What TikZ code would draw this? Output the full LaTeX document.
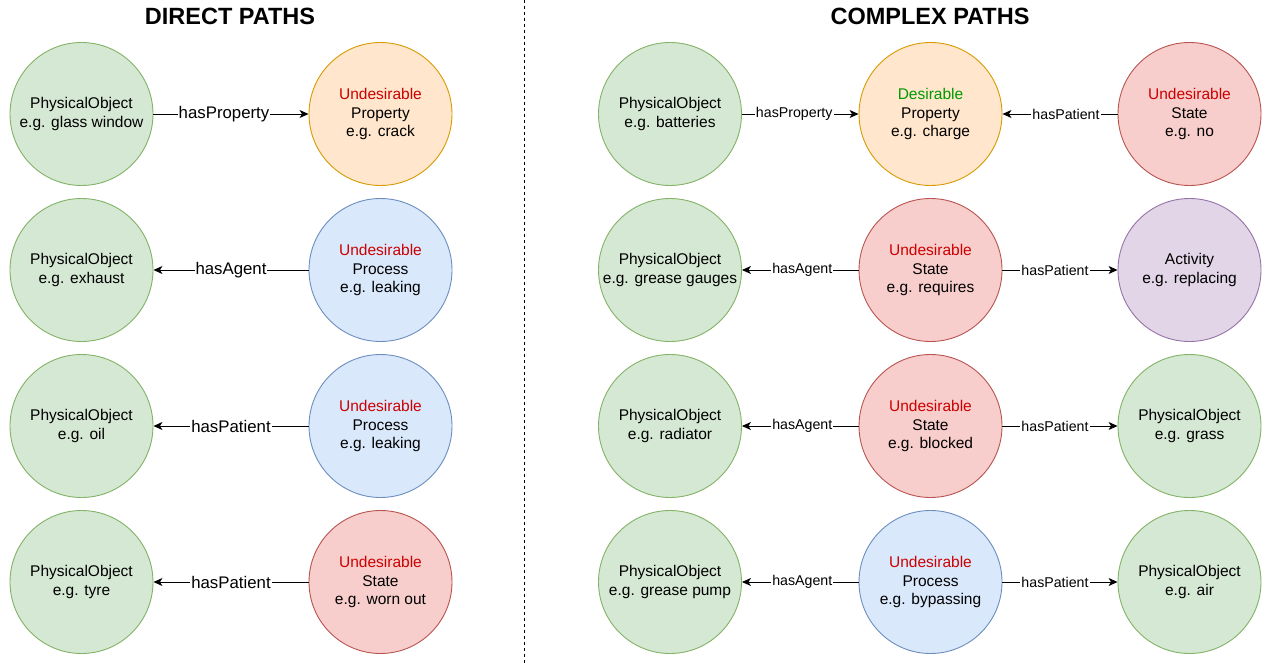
\documentclass[tikz,border=0pt]{standalone}
\usepackage{fontspec}
\setmainfont{Liberation Sans}
\usetikzlibrary{arrows.meta}
\definecolor{gfill}{HTML}{D5E8D4}\definecolor{gline}{HTML}{82B366}
\definecolor{ofill}{HTML}{FFE6CC}\definecolor{oline}{HTML}{D79B00}
\definecolor{bfill}{HTML}{DAE8FC}\definecolor{bline}{HTML}{6C8EBF}
\definecolor{rfill}{HTML}{F8CECC}\definecolor{rline}{HTML}{B85450}
\definecolor{pfill}{HTML}{E1D5E7}\definecolor{pline}{HTML}{9673A6}
\definecolor{undes}{HTML}{CC0000}\definecolor{des}{HTML}{009900}
\newcommand{\und}{\textcolor{undes}{Undesirable}}
\newcommand{\des}{\textcolor{des}{Desirable}}
\tikzset{
  x=1pt,y=-1pt,
  circ/.style={circle,minimum size=143pt,inner sep=0pt,line width=0.9pt,align=center,
    font=\fontsize{15.5}{18.8}\selectfont},
  gc/.style={circ,fill=gfill,draw=gline},
  oc/.style={circ,fill=ofill,draw=oline},
  bc/.style={circ,fill=bfill,draw=bline},
  rc/.style={circ,fill=rfill,draw=rline},
  pc/.style={circ,fill=pfill,draw=pline},
  rel/.style={line width=0.9pt,-{Stealth[length=9pt,width=8pt,inset=2.5pt]}},
  biglab/.style={fill=white,inner sep=1pt,font=\fontsize{16.8}{19}\selectfont},
  smlab/.style={fill=white,inner sep=1pt,font=\fontsize{14.2}{16}\selectfont},
  title/.style={font=\bfseries\fontsize{23.5}{27}\selectfont},
}
\begin{document}
\begin{tikzpicture}
\useasboundingbox (0,0) rectangle (1271,663);
\draw[dashed,line width=0.7pt] (524,0) -- (524,663);
\node[title] (t1) at (230,16) {DIRECT PATHS};
\node[title] (t2) at (930,16) {COMPLEX PATHS};
% direct
\node[gc] (a1) at (81.5,114) {PhysicalObject\\e.g. glass window};
\node[oc] (b1) at (380.5,114) {\und\\Property\\e.g. crack};
\node[gc] (a2) at (81.5,270) {PhysicalObject\\e.g. exhaust};
\node[bc] (b2) at (380.5,270) {\und\\Process\\e.g. leaking};
\node[gc] (a3) at (81.5,426) {PhysicalObject\\e.g. oil};
\node[bc] (b3) at (380.5,426) {\und\\Process\\e.g. leaking};
\node[gc] (a4) at (81.5,582) {PhysicalObject\\e.g. tyre};
\node[rc] (b4) at (380.5,582) {\und\\State\\e.g. worn out};
\draw[rel] (a1) -- node[biglab,xshift=-7pt]{hasProperty} (b1);
\draw[rel] (b2) -- node[biglab]{hasAgent} (a2);
\draw[rel] (b3) -- node[biglab]{hasPatient} (a3);
\draw[rel] (b4) -- node[biglab]{hasPatient} (a4);
% complex
\node[gc] (c1) at (670,114) {PhysicalObject\\e.g. batteries};
\node[oc] (d1) at (930.5,114) {\des\\Property\\e.g. charge};
\node[rc] (e1) at (1189.5,114) {\und\\State\\e.g. no};
\node[gc] (c2) at (670,270) {PhysicalObject\\e.g. grease gauges};
\node[rc] (d2) at (930.5,270) {\und\\State\\e.g. requires};
\node[pc] (e2) at (1189.5,270) {Activity\\e.g. replacing};
\node[gc] (c3) at (670,426) {PhysicalObject\\e.g. radiator};
\node[rc] (d3) at (930.5,426) {\und\\State\\e.g. blocked};
\node[gc] (e3) at (1189.5,426) {PhysicalObject\\e.g. grass};
\node[gc] (c4) at (670,582) {PhysicalObject\\e.g. grease pump};
\node[bc] (d4) at (930.5,582) {\und\\Process\\e.g. bypassing};
\node[gc] (e4) at (1189.5,582) {PhysicalObject\\e.g. air};
\draw[rel] (c1) -- node[smlab,xshift=-6pt]{hasProperty} (d1);
\draw[rel] (e1) -- node[smlab,xshift=6pt]{hasPatient} (d1);
\draw[rel] (d2) -- node[smlab,xshift=2pt]{hasAgent} (c2);
\draw[rel] (d2) -- node[smlab,xshift=-5pt]{hasPatient} (e2);
\draw[rel] (d3) -- node[smlab,xshift=2pt]{hasAgent} (c3);
\draw[rel] (d3) -- node[smlab,xshift=-5pt]{hasPatient} (e3);
\draw[rel] (d4) -- node[smlab,xshift=2pt]{hasAgent} (c4);
\draw[rel] (d4) -- node[smlab,xshift=-5pt]{hasPatient} (e4);
\end{tikzpicture}
\end{document}
